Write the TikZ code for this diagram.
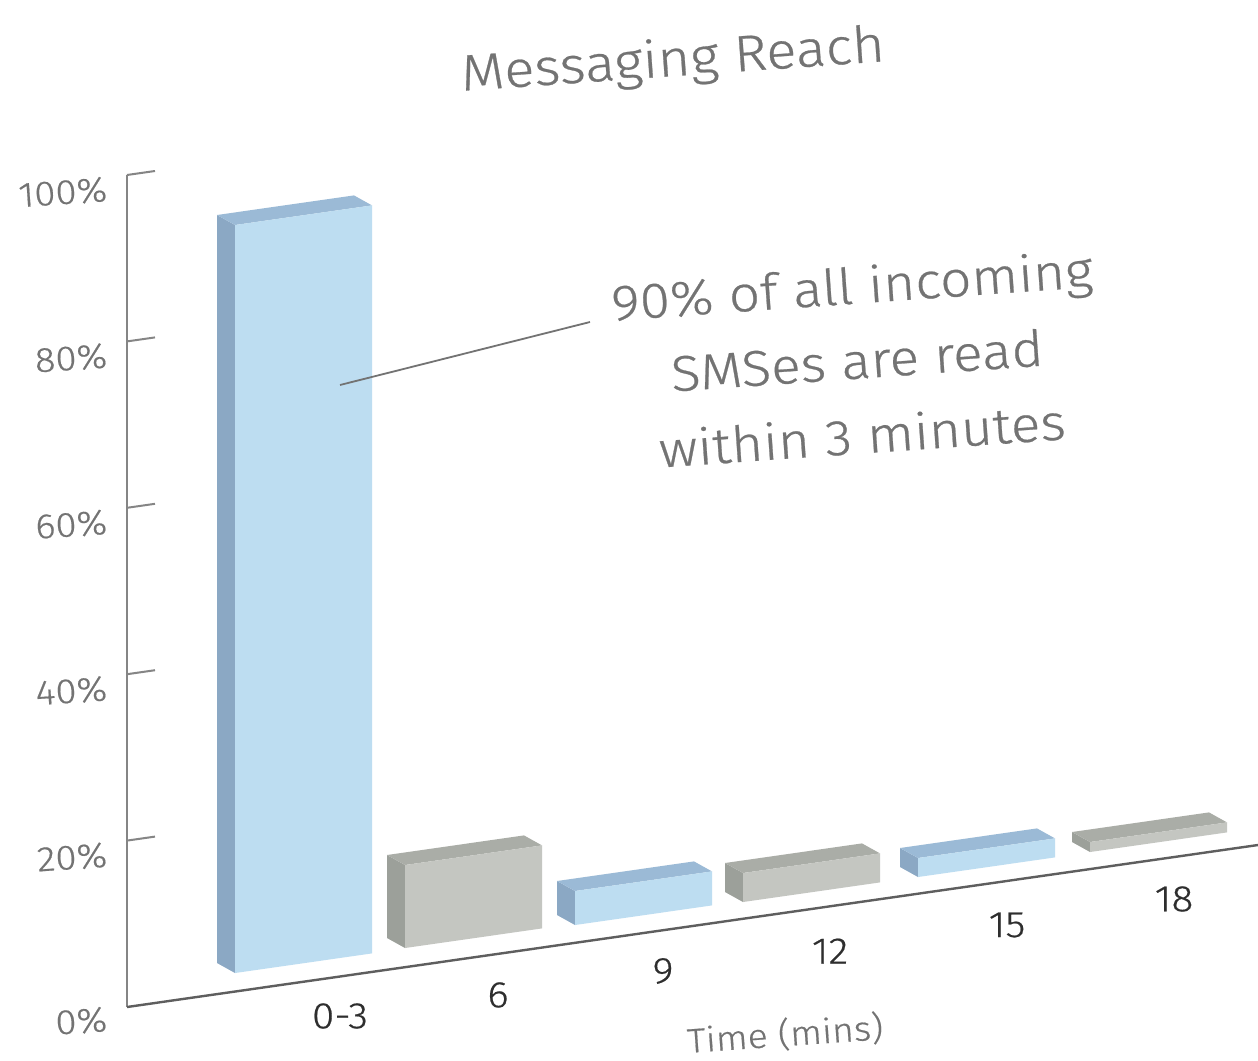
\documentclass[tikz,border=0pt]{standalone}
\usepackage{fontspec}
\setmainfont{Fira Sans Light}[FakeStretch=1.1,FakeBold=0.5]
\definecolor{blueF}{HTML}{BDDDF1}
\definecolor{blueS}{HTML}{8BA8C4}
\definecolor{blueT}{HTML}{9BBAD6}
\definecolor{grayF}{HTML}{C4C6C1}
\definecolor{grayS}{HTML}{9CA09A}
\definecolor{grayT}{HTML}{AAADA7}
\definecolor{axisgray}{HTML}{858585}
\definecolor{basegray}{HTML}{5E5E5E}
\definecolor{textgray}{HTML}{737373}
\definecolor{catdark}{HTML}{2E2E2E}
\begin{document}
\begin{tikzpicture}[x=1pt,y=-1pt,
  axisline/.style={draw=axisgray, line width=2pt},
  baseline/.style={draw=basegray, line width=2.4pt},
  tickline/.style={draw=axisgray, line width=2pt},
  leader/.style={draw=textgray, line width=1.8pt},
  ticklabel/.style={text=textgray, anchor=base east, rotate=4, inner sep=0pt, font=\fontsize{35}{40}\selectfont},
  catlabel/.style={text=catdark, inner sep=0pt, font=\fontsize{37}{40}\selectfont},
  titlestyle/.style={text=textgray, anchor=base, rotate=4, inner sep=0pt, font=\fontsize{51}{60}\selectfont},
  notestyle/.style={text=textgray, align=center, rotate=4, inner sep=0pt, font=\fontsize{50}{75}\selectfont},
  axtitle/.style={text=textgray, anchor=base, rotate=4, inner sep=0pt, font=\fontsize{34}{40}\selectfont}]
\useasboundingbox (0,0) rectangle (1258,1060);
\fill[white] (0,0) rectangle (1258,1060);

% bars
\foreach \xl/\yb/\h/\fc/\sc/\tc in {235/973/748/blueF/blueS/blueT,
    405/948/83/grayF/grayS/grayT,
    575/925/34/blueF/blueS/blueT,
    743/902/29/grayF/grayS/grayT,
    918/877/19/blueF/blueS/blueT,
    1090/852/10/grayF/grayS/grayT}{
  \pgfmathsetmacro\ybr{\yb-0.143*137}
  \fill[\sc] (\xl,\yb) -- (\xl,\yb-\h) -- (\xl-18,\yb-\h-10) -- (\xl-18,\yb-10) -- cycle;
  \fill[\tc] (\xl,\yb-\h) -- (\xl+137,\ybr-\h) -- (\xl+119,\ybr-\h-10) -- (\xl-18,\yb-\h-10) -- cycle;
  \fill[\fc] (\xl,\yb) -- (\xl+137,\ybr) -- (\xl+137,\ybr-\h) -- (\xl,\yb-\h) -- cycle;
}

% axes
\coordinate (ytop) at (127,175);
\coordinate (origin) at (127,1007);
\coordinate (xend) at (1258,845);
\draw[axisline] (ytop) -- (origin);
\draw[baseline] (origin) -- (xend);
\foreach \i/\lab in {1/20\%,2/40\%,3/60\%,4/80\%,5/100\%}{
  \coordinate (t\i) at (127,{1007-166.4*\i});
  \draw[tickline] (t\i) -- ++(28,-4);
  \node[ticklabel] (l\i) at (108,{1007-166.4*\i+26}) {\lab};
}
\node[ticklabel] (l0) at (108,1031) {0\%};

% category labels
\node[catlabel] (c1) at (340,1016) {0-3};
\node[catlabel] (c2) at (498,995) {6};
\node[catlabel] (c3) at (663,971) {9};
\node[catlabel] (c4) at (830,951) {12};
\node[catlabel] (c5) at (1007,925) {15};
\node[catlabel] (c6) at (1174,899) {18};

\node[axtitle] (xt) at (786,1046) {Time (mins)};

% title
\node[titlestyle] (title) at (674,76) {Messaging Reach};

% annotation
\node[notestyle] (note) at (857,360) {90\% of all incoming\\SMSes are read\\within 3 minutes};
\coordinate (leadstart) at (340,385);
\coordinate (leadend) at (590,322);
\draw[leader] (leadstart) -- (leadend);
\end{tikzpicture}
\end{document}
